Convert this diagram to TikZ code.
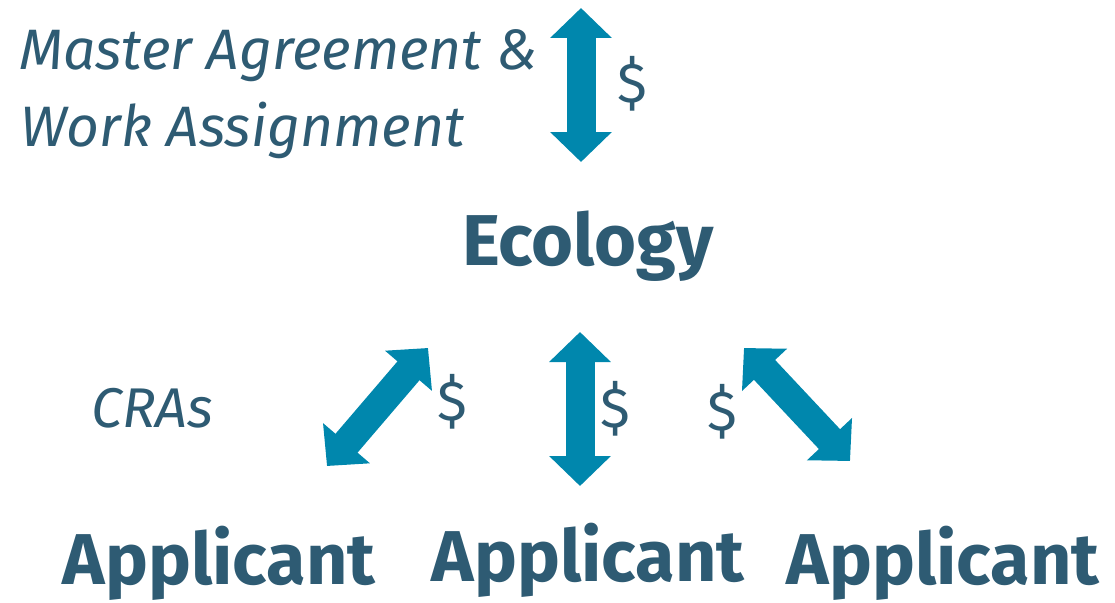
\documentclass[tikz,border=0pt]{standalone}
\usepackage{fontspec}
\setmainfont{Fira Sans}
\usetikzlibrary{arrows.meta,positioning}
\definecolor{inkblue}{RGB}{46,91,115}
\definecolor{arrowblue}{RGB}{0,135,173}
\begin{document}
\begin{tikzpicture}[x=1pt,y=-1pt,
		every node/.style = {inner sep=0pt, text=inkblue},
		flow/.style = {
			draw=arrowblue, line width=29pt,
			{Triangle[width=60pt,length=30pt]}-{Triangle[width=60pt,length=30pt]}
		},
		lbl/.style = {font=\fontsize{57}{60}\selectfont\itshape, anchor=base west},
		party/.style = {font=\fontsize{72}{74}\selectfont\bfseries, anchor=base},
		money/.style = {font=\fontsize{56}{58}\selectfont}]
	\useasboundingbox (0,0) rectangle (1115,602);
	% labels
	\node (master) [lbl] at (19,69) {Master Agreement \&};
	\node (work) [lbl] at (20,146) {Work Assignment};
	\node (cras) [lbl, font=\fontsize{56}{58}\selectfont\itshape] at (91,427) {CRAs};
	% parties
	\node (eco) [party] at (588,265) {Ecology};
	\node (app1) [party] at (219,584) {Applicant};
	\node (app2) [party] at (588,581) {Applicant};
	\node (app3) [party] at (943,584) {Applicant};
	% arrow ends
	\coordinate (t0) at (581,8);
	\coordinate (t1) at (581,162);
	\coordinate (l0) at (327,466);
	\coordinate (l1) at (428,348);
	\coordinate (c0) at (580,332);
	\coordinate (c1) at (580,486);
	\coordinate (r0) at (744,348);
	\coordinate (r1) at (850,461);
	\draw [flow] (t0) -- (t1);
	\draw [flow] (l0) -- (l1);
	\draw [flow] (c0) -- (c1);
	\draw [flow] (r0) -- (r1);
	% money
	\node (m0) [money] at (632,84) {\$};
	\node (m1) [money] at (452,402) {\$};
	\node (m2) [money] at (615,409) {\$};
	\node (m3) [money] at (722,412) {\$};
\end{tikzpicture}
\end{document}
